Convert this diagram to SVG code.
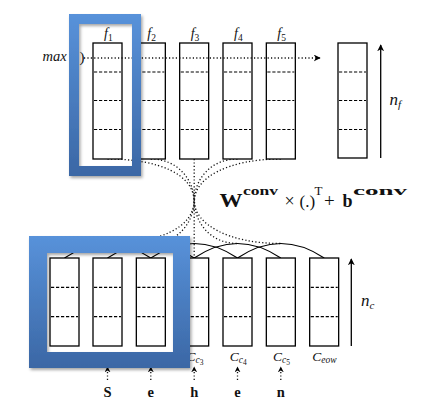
<svg xmlns="http://www.w3.org/2000/svg" width="426" height="407" viewBox="0 0 426 407">
<defs>
<style>
.box{fill:#fff;stroke:#000;stroke-width:1.3}
.dash{stroke:#000;stroke-width:1.2;stroke-dasharray:3.2 1.8;fill:none}
.dot{stroke:#111;stroke-width:1.3;stroke-dasharray:1.2 2.2;fill:none}
.arc{stroke:#000;stroke-width:1.2;fill:none}
.solid{stroke:#000;stroke-width:1.3;fill:none}
text{font-family:"Liberation Serif","Times New Roman",serif;fill:#111}
.it{font-style:italic}
.bd{font-weight:bold}
.frame{fill:url(#blue);fill-rule:evenodd;filter:url(#sh)}
</style>
<linearGradient id="blue" x1="0" y1="0" x2="0" y2="1">
<stop offset="0" stop-color="#5892da"/>
<stop offset="1" stop-color="#3b67a5"/>
</linearGradient>
<filter id="sh" x="-10%" y="-10%" width="125%" height="125%">
<feDropShadow dx="1.5" dy="2" stdDeviation="1.5" flood-color="#000" flood-opacity="0.35"/>
</filter>
<marker id="ah" viewBox="0 0 10 10" refX="9" refY="5" markerWidth="7" markerHeight="7" markerUnits="userSpaceOnUse" orient="auto">
<path d="M0 0 L10 5 L0 10 L3 5 Z" fill="#000"/>
</marker>
<marker id="ahs" viewBox="0 0 10 10" refX="9" refY="5" markerWidth="6" markerHeight="6" markerUnits="userSpaceOnUse" orient="auto">
<path d="M0 0 L10 5 L0 10 L3 5 Z" fill="#000"/>
</marker>
</defs>
<rect width="426" height="407" fill="#fff"/>

<g id="connectors">
<path class="dot" d="M107.5 159 C160 159 194 175 194 201 C194 227 160 243.5 107.5 243.5"/>
<path class="dot" d="M150.8 159 C178 159 194 180 194 201 C194 222 178 243.5 150.8 243.5"/>
<path class="dot" d="M194.2 159 V258"/>
<path class="dot" d="M237.5 159 C210 159 194.4 180 194.4 201 C194.4 222 210 243.5 237.5 243.5"/>
<path class="dot" d="M280.8 159 C228 159 194.4 178 194.4 201 C194.4 224 228 243.5 280.8 243.5"/>
<path class="arc" d="M64.5 258 Q107.5 229 150.8 258"/>
<path class="arc" d="M107.5 258 Q150.8 229 194.2 258"/>
<path class="arc" d="M150.8 258 Q194.2 229 237.5 258"/>
<path class="arc" d="M194.2 258 Q237.5 229 280.8 258"/>
<path class="arc" d="M237.5 258 Q280.8 229 324.2 258"/>
<path class="solid" d="M380.7 158 V45" marker-end="url(#ah)"/>
<path class="solid" d="M351.3 346 V259" marker-end="url(#ah)"/>
<path class="dot" d="M107.5 380 V367" marker-end="url(#ahs)"/>
<path class="dot" d="M150.8 380 V367" marker-end="url(#ahs)"/>
<path class="dot" d="M194.2 380 V367" marker-end="url(#ahs)"/>
<path class="dot" d="M237.5 380 V367" marker-end="url(#ahs)"/>
<path class="dot" d="M280.8 380 V367" marker-end="url(#ahs)"/>
</g>

<g id="f1"><rect class="box" x="93" y="43" width="29" height="116"/><path class="dash" d="M94 72H121M94 100.5H121M94 129.5H121"/><text class="it" x="104" y="38" font-size="14">f<tspan font-style="normal" font-size="9.5" dy="2.5">1</tspan></text></g>
<g id="f2"><rect class="box" x="136.33" y="43" width="29" height="116"/><path class="dash" d="M137.3 72H164.3M137.3 100.5H164.3M137.3 129.5H164.3"/><text class="it" x="147.3" y="38" font-size="14">f<tspan font-style="normal" font-size="9.5" dy="2.5">2</tspan></text></g>
<g id="f3"><rect class="box" x="179.67" y="43" width="29" height="116"/><path class="dash" d="M180.7 72H207.7M180.7 100.5H207.7M180.7 129.5H207.7"/><text class="it" x="190.7" y="38" font-size="14">f<tspan font-style="normal" font-size="9.5" dy="2.5">3</tspan></text></g>
<g id="f4"><rect class="box" x="223" y="43" width="29" height="116"/><path class="dash" d="M224 72H251M224 100.5H251M224 129.5H251"/><text class="it" x="234" y="38" font-size="14">f<tspan font-style="normal" font-size="9.5" dy="2.5">4</tspan></text></g>
<g id="f5"><rect class="box" x="266.33" y="43" width="29" height="116"/><path class="dash" d="M267.3 72H294.3M267.3 100.5H294.3M267.3 129.5H294.3"/><text class="it" x="277.3" y="38" font-size="14">f<tspan font-style="normal" font-size="9.5" dy="2.5">5</tspan></text></g>
<g id="out"><rect class="box" x="338" y="43" width="29" height="115"/><path class="dash" d="M339 72H366M339 100.5H366M339 129.5H366"/></g>

<g id="maxline">
<text class="it" x="42.5" y="61" font-size="14.5">max</text>
<text x="79.5" y="62" font-size="15">)</text>
<path class="dot" d="M84 58 H320" marker-end="url(#ah)"/>
</g>

<g id="cbow"><rect class="box" x="50" y="258" width="29" height="88"/><path class="dash" d="M51 287.3H78M51 316.7H78"/><text class="it" x="64.5" y="360.5" font-size="13.5" text-anchor="middle">C<tspan font-size="9.5" dy="2.5">bow</tspan></text></g>
<g id="cc1"><rect class="box" x="93" y="258" width="29" height="88"/><path class="dash" d="M94 287.3H121M94 316.7H121"/><text class="it" x="107.5" y="360.5" font-size="13.5" text-anchor="middle">C<tspan font-size="9.5" dy="2.5">c</tspan><tspan font-style="normal" font-size="7.5" dy="1.5">1</tspan></text></g>
<g id="cc2"><rect class="box" x="136.33" y="258" width="29" height="88"/><path class="dash" d="M137.3 287.3H164.3M137.3 316.7H164.3"/><text class="it" x="150.8" y="360.5" font-size="13.5" text-anchor="middle">C<tspan font-size="9.5" dy="2.5">c</tspan><tspan font-style="normal" font-size="7.5" dy="1.5">2</tspan></text></g>
<g id="cc3"><rect class="box" x="179.67" y="258" width="29" height="88"/><path class="dash" d="M180.7 287.3H207.7M180.7 316.7H207.7"/><text class="it" x="195" y="360.5" font-size="13.5" text-anchor="middle">C<tspan font-size="9.5" dy="2.5">c</tspan><tspan font-style="normal" font-size="7.5" dy="1.5">3</tspan></text></g>
<g id="cc4"><rect class="box" x="223" y="258" width="29" height="88"/><path class="dash" d="M224 287.3H251M224 316.7H251"/><text class="it" x="238.3" y="360.5" font-size="13.5" text-anchor="middle">C<tspan font-size="9.5" dy="2.5">c</tspan><tspan font-style="normal" font-size="7.5" dy="1.5">4</tspan></text></g>
<g id="cc5"><rect class="box" x="266.33" y="258" width="29" height="88"/><path class="dash" d="M267.3 287.3H294.3M267.3 316.7H294.3"/><text class="it" x="281.6" y="360.5" font-size="13.5" text-anchor="middle">C<tspan font-size="9.5" dy="2.5">c</tspan><tspan font-style="normal" font-size="7.5" dy="1.5">5</tspan></text></g>
<g id="ceow"><rect class="box" x="309.67" y="258" width="29" height="88"/><path class="dash" d="M310.7 287.3H337.7M310.7 316.7H337.7"/><text class="it" x="324.5" y="360.5" font-size="13.5" text-anchor="middle">C<tspan font-size="9.5" dy="2.5">eow</tspan></text></g>

<g id="chars">
<text class="bd" x="107.5" y="397" font-size="14.5" text-anchor="middle">S</text>
<text class="bd" x="150.8" y="397" font-size="14.5" text-anchor="middle">e</text>
<text class="bd" x="194.2" y="397" font-size="14.5" text-anchor="middle">h</text>
<text class="bd" x="237.5" y="397" font-size="14.5" text-anchor="middle">e</text>
<text class="bd" x="280.8" y="397" font-size="14.5" text-anchor="middle">n</text>
</g>

<g id="labels">
<text class="it" x="389.5" y="104.5" font-size="17">n<tspan font-size="11" dy="3">f</tspan></text>
<text class="it" x="361" y="306" font-size="17">n<tspan font-size="11" dy="2.5">c</tspan></text>
</g>

<g id="formula">
<text class="bd" x="219.5" y="206.5" font-size="18" textLength="23" lengthAdjust="spacingAndGlyphs">W</text>
<text class="bd" x="243" y="195" font-size="12.5" textLength="35" lengthAdjust="spacingAndGlyphs">conv</text>
<text x="284.5" y="207" font-size="18">×</text>
<text x="299.5" y="207" font-size="17">(.)</text>
<text x="314.5" y="195" font-size="13">T</text>
<text x="324" y="207" font-size="19">+</text>
<text class="bd" x="342.5" y="206.5" font-size="18">b</text>
<text class="bd" x="353" y="195" font-size="12.5" textLength="54" lengthAdjust="spacingAndGlyphs">conv</text>
</g>

<g id="frame-top"><path class="frame" d="M69 14H141V176H69Z M79 24V166H132V24Z"/></g>
<g id="frame-bottom"><path class="frame" d="M29 236H190V368H29Z M47 253V352H173V253Z"/></g>
</svg>
